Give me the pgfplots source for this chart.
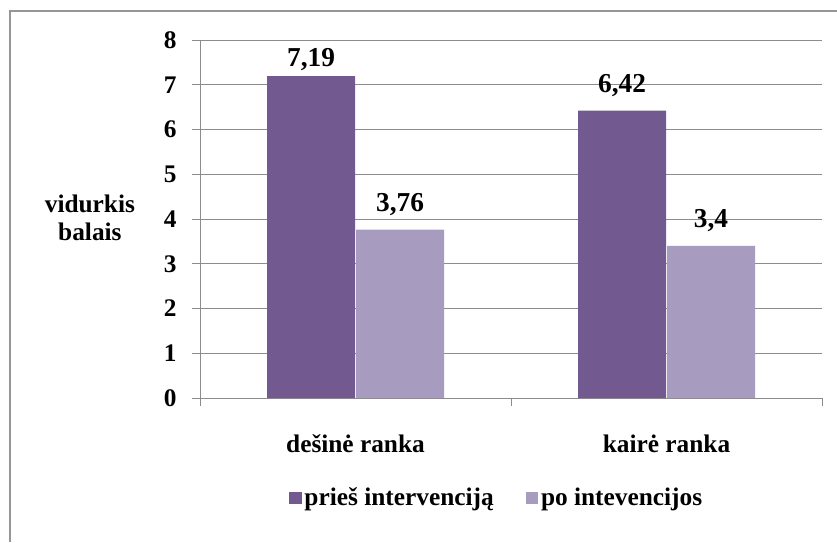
\documentclass[border=0pt]{standalone}
\usepackage{fontspec}
\setmainfont{Liberation Serif}[BoldFont={Liberation Serif Bold}]
\usepackage{pgfplots}
\pgfplotsset{compat=1.18}
\usepackage{pgfplotstable}
\definecolor{barA}{RGB}{114,89,143}
\definecolor{barB}{RGB}{168,155,192}
\definecolor{gridc}{RGB}{140,140,140}
\definecolor{framec}{RGB}{150,150,150}
\newcommand{\bigbf}{\fontsize{19}{21}\selectfont\bfseries}
\newcommand{\labbf}{\fontsize{20.5}{22}\selectfont\bfseries}

\pgfplotstableread{
x y s
0 7.19 7.5
1 6.42 13.5
}\tabA
\pgfplotstableread{
x y s
0 3.76 13.5
1 3.4 13.5
}\tabB

\begin{document}
\begin{tikzpicture}
\path[use as bounding box] (0,0) rectangle (627.75pt,406.5pt);
\draw[framec, line width=1.1pt] (7.5pt,0pt) -- (7.5pt,398.25pt) -- (627.75pt,398.25pt);
\begin{axis}[
  at={(150pt,108pt)}, anchor=south west,
  scale only axis, width=466.5pt, height=268.5pt,
  xmin=-0.5, xmax=1.5, ymin=0, ymax=8,
  axis lines*=left,
  axis line style={gridc, line width=0.75pt},
  ytick={0,1,...,8},
  ymajorgrids, grid style={gridc, line width=0.75pt},
  tick style={gridc, line width=0.75pt},
  tick align=outside, major tick length=6pt,
  xtick={-0.5,0.5,1.5}, xticklabels={},
  extra x ticks={0,1},
  extra x tick labels={dešinė ranka, kairė ranka},
  extra x tick style={major tick length=0pt, tick style={draw=none}},
  xticklabel style={anchor=base, yshift=-40.5pt, font=\bigbf},
  yticklabel style={font=\bigbf, xshift=-8pt},
  /pgf/number format/use comma,
  /pgf/number format/assume math mode=true,
  ylabel={vidurkis\\balais},
  ylabel style={rotate=-90, at={(axis description cs:-0.177,0.503)}, anchor=center, align=center, font=\bigbf},
  ybar=0.75pt, bar width=66pt,
  nodes near coords,
  point meta=explicit,
  visualization depends on={\thisrow{s} \as \labshift},
  every node near coord/.append style={anchor=base, yshift=\labshift pt, font=\labbf, black},
  legend style={at={(axis description cs:0.4775,-0.279)}, anchor=center, draw=none, fill=none,
    legend columns=-1, font=\bigbf,
    /tikz/every even column/.append style={column sep=22pt}},
  legend image code/.code={\fill[#1] (0pt,-4.75pt) rectangle (9.5pt,4.75pt);},
]
\addplot[fill=barA, draw=none] table[x=x, y=y, meta=y] {\tabA};
\addplot[fill=barB, draw=none] table[x=x, y=y, meta=y] {\tabB};
\legend{prieš intervenciją, po intevencijos}
\end{axis}
\end{tikzpicture}
\end{document}
